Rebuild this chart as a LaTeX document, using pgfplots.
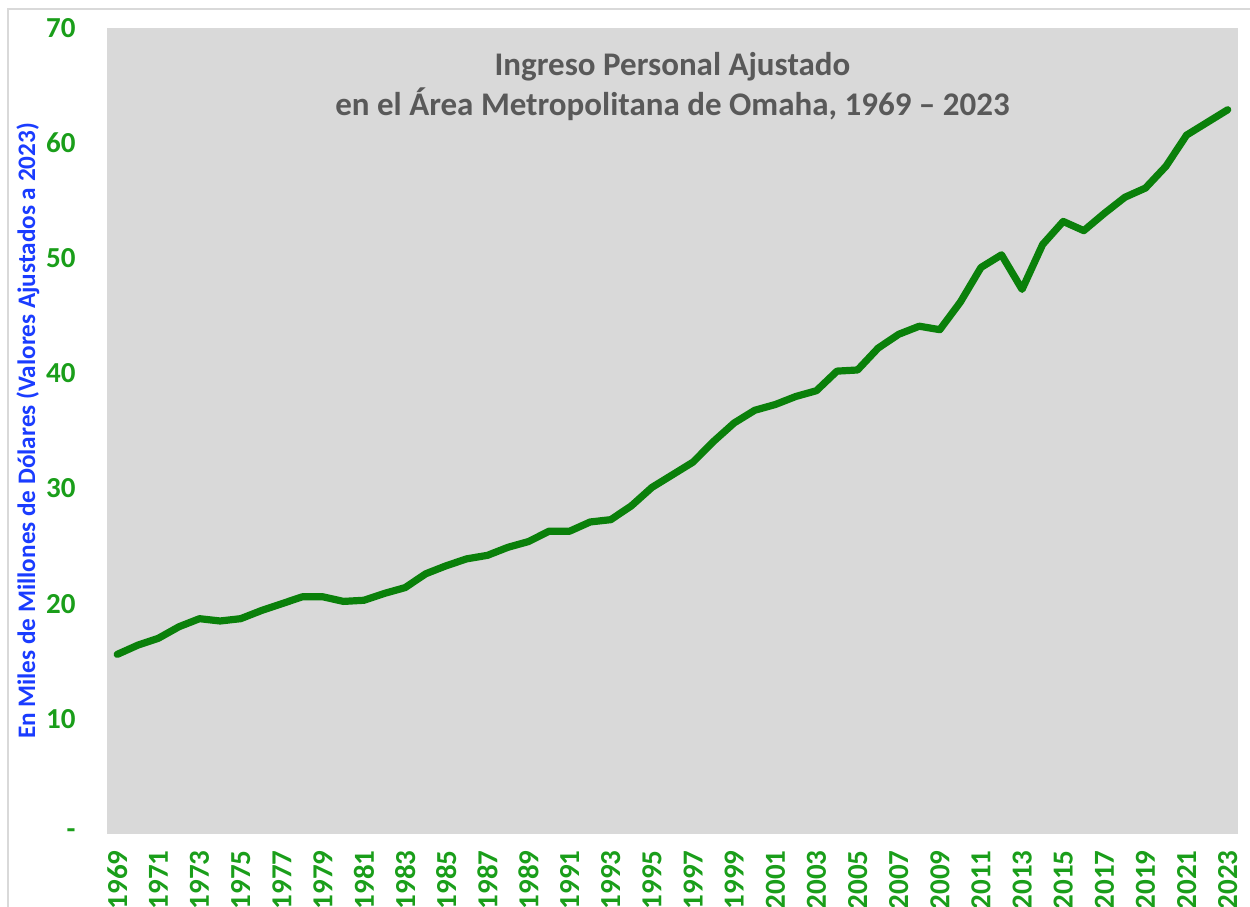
\documentclass[border=0pt]{standalone}
\usepackage{pgfplots}
\pgfplotsset{compat=1.18}
\usepackage{fontspec}
\setmainfont{Carlito}
\definecolor{plotbg}{HTML}{D9D9D9}
\definecolor{linegreen}{HTML}{0A800A}
\definecolor{tickgreen}{HTML}{1A9E1A}
\definecolor{labelblue}{HTML}{1A3CFF}
\definecolor{titlegray}{HTML}{595959}
\definecolor{framegray}{HTML}{D9D9D9}
\begin{document}
\begin{tikzpicture}
% 1 px of the reference = 0.5bp; plot box lower-left at (0,0)
\useasboundingbox (-53.5bp,-36.5bp) rectangle (571.5bp,417bp);
\draw[framegray, line width=1bp] (-49.5bp,-60bp) -- (-49.5bp,412.5bp) -- (600bp,412.5bp);
\begin{axis}[
    at={(0,0)}, anchor=south west,
    scale only axis,
    width=565.5bp, height=403bp,
    xmin=1968.5, xmax=2023.5,
    ymin=0, ymax=70,
    axis background/.style={fill=plotbg},
    axis line style={draw=none},
    tick style={draw=none},
    xtick={1969,1971,...,2023},
    xticklabels={1969,1971,1973,1975,1977,1979,1981,1983,1985,1987,1989,1991,1993,1995,1997,1999,2001,2003,2005,2007,2009,2011,2013,2015,2017,2019,2021,2023},
    ytick={0,10,...,70},
    yticklabels={-,10,20,30,40,50,60,70},
    every tick label/.append style={font=\fontsize{14.5bp}{16bp}\selectfont\bfseries, text=tickgreen},
    xticklabel style={rotate=90, anchor=east, inner sep=0pt},
    xticklabel shift=8bp,
    yticklabel style={anchor=east, inner sep=0pt},
    yticklabel shift=15.5bp,
    every axis y label/.style={at={(axis description cs:-0.0699,0.5)}, rotate=90, anchor=center,
        font=\fontsize{12.6bp}{15bp}\selectfont\bfseries, text=labelblue},
    ylabel={En Miles de Millones de Dólares (Valores Ajustados a 2023)},
    clip=false,
]
\addplot[linegreen, line width=3.6bp, line join=round, line cap=round] coordinates {
(1969,15.6) (1970,16.4) (1971,17.0) (1972,18.0) (1973,18.7) (1974,18.5) (1975,18.7)
(1976,19.4) (1977,20.0) (1978,20.6) (1979,20.6) (1980,20.2) (1981,20.3) (1982,20.9)
(1983,21.4) (1984,22.6) (1985,23.3) (1986,23.9) (1987,24.2) (1988,24.9) (1989,25.4)
(1990,26.3) (1991,26.3) (1992,27.1) (1993,27.3) (1994,28.5) (1995,30.1) (1996,31.2)
(1997,32.3) (1998,34.1) (1999,35.7) (2000,36.8) (2001,37.3) (2002,38.0) (2003,38.5)
(2004,40.2) (2005,40.3) (2006,42.2) (2007,43.4) (2008,44.1) (2009,43.8) (2010,46.2)
(2011,49.2) (2012,50.3) (2013,47.3) (2014,51.2) (2015,53.2) (2016,52.4) (2017,53.9)
(2018,55.3) (2019,56.1) (2020,58.0) (2021,60.7) (2022,61.8) (2023,62.9)
};
\node[align=center, font=\fontsize{16.5bp}{20bp}\selectfont\bfseries, text=titlegray]
    at (axis description cs:0.5,0.927) {Ingreso Personal Ajustado\\en el Área Metropolitana de Omaha, 1969 – 2023};
\end{axis}
\end{tikzpicture}
\end{document}
